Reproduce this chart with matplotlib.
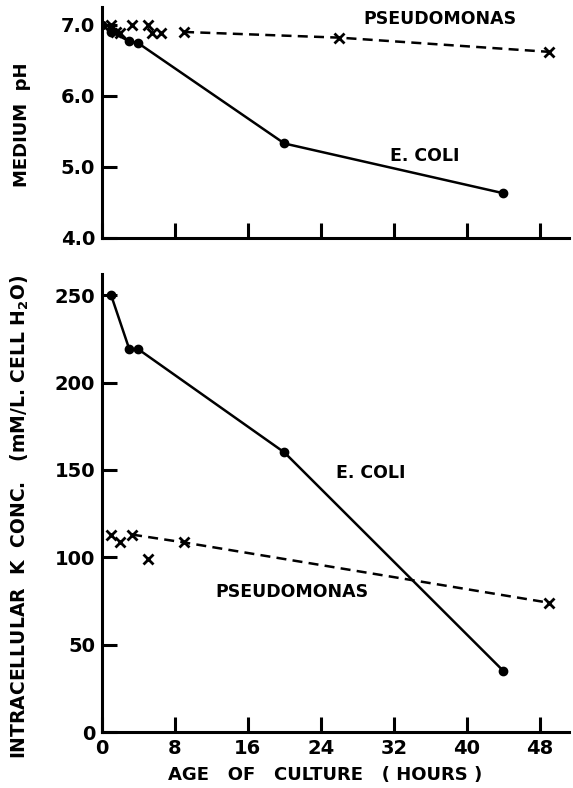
import matplotlib.pyplot as plt
import numpy as np

plt.rcParams['font.family'] = 'DejaVu Sans'

# medium pH vs. age of culture
ecoli_ph_hours = [0, 1, 3, 4, 20, 44]
ecoli_ph = [7.0, 6.9, 6.77, 6.74, 5.33, 4.63]
pseudo_ph_hours = [1, 1.5, 2, 3.3, 5, 5.5, 6.5, 9, 26, 49]
pseudo_ph = [7.0, 6.9, 6.88, 7.0, 7.0, 6.89, 6.89, 6.9, 6.82, 6.62]
pseudo_ph_trend_hours = [9, 26, 49]
pseudo_ph_trend = [6.9, 6.82, 6.62]

# intracellular K concentration (mM/L. cell H2O)
ecoli_k_hours = [1, 3, 4, 20, 44]
ecoli_k = [250, 219, 219, 160, 35]
pseudo_k_hours = [1, 2, 3.3, 5, 9, 49]
pseudo_k = [113, 108.5, 113, 99, 108.5, 74]
pseudo_k_trend_hours = [3.3, 9, 49]
pseudo_k_trend = [113, 108.5, 74]

hour_ticks = [0, 8, 16, 24, 32, 40, 48]

fig = plt.figure(figsize=(5.73, 7.88), dpi=100)
ax1 = fig.add_axes([0.178, 0.698, 0.815, 0.293])
ax2 = fig.add_axes([0.178, 0.071, 0.815, 0.581])

lw = 1.8
for ax in (ax1, ax2):
    for s in ('top', 'right'):
        ax.spines[s].set_visible(False)
    for s in ('left', 'bottom'):
        ax.spines[s].set_linewidth(2.2)
    ax.set_xlim(0, 51.2)
    ax.set_xticks(hour_ticks)
    ax.tick_params(direction='in', length=11, width=2.2, labelsize=14,
                   pad=5)

# top panel
ax1.plot(ecoli_ph_hours, ecoli_ph, '-', color='black', lw=lw,
         marker='o', ms=6)
ax1.plot(pseudo_ph_hours, pseudo_ph, 'x', color='black', ms=7, mew=2)
ax1.plot(pseudo_ph_trend_hours, pseudo_ph_trend, '--', color='black',
         lw=lw, dashes=(4, 2.5))
ax1.set_ylim(4.0, 7.25)
ax1.set_yticks([4.0, 5.0, 6.0, 7.0])
ax1.set_yticklabels(['4.0', '5.0', '6.0', '7.0'], fontweight='bold')
ax1.set_xticklabels([])
ax1.set_ylabel('MEDIUM  pH', fontsize=13, fontweight='bold')
ax1.yaxis.set_label_coords(-0.152, 0.49)
ax1.text(37, 6.95, 'PSEUDOMONAS', fontsize=12.5, fontweight='bold',
         ha='center', va='bottom')
ax1.text(35.4, 5.15, 'E. COLI', fontsize=12.5, fontweight='bold',
         ha='center', va='center')

# bottom panel
ax2.plot(ecoli_k_hours, ecoli_k, '-', color='black', lw=lw,
         marker='o', ms=6)
ax2.plot(pseudo_k_hours, pseudo_k, 'x', color='black', ms=7, mew=2)
ax2.plot(pseudo_k_trend_hours, pseudo_k_trend, '--', color='black',
         lw=lw, dashes=(4, 2.5))
ax2.set_ylim(0, 262)
ax2.set_yticks([0, 50, 100, 150, 200, 250])
ax2.set_yticklabels(['0', '50', '100', '150', '200', '250'],
                    fontweight='bold')
ax2.set_xticklabels([str(h) for h in hour_ticks], fontweight='bold')
ax2.set_ylabel('INTRACELLULAR  K  CONC.   (mM/L. CELL H$_\\mathbf{2}$O)',
               fontsize=13.5, fontweight='bold')
ax2.yaxis.set_label_coords(-0.152, 0.47)
ax2.set_xlabel('AGE   OF   CULTURE   ( HOURS )', fontsize=13,
               fontweight='bold')
ax2.xaxis.set_label_coords(0.478, -0.075)
ax2.text(29.5, 148, 'E. COLI', fontsize=12.5, fontweight='bold',
         ha='center', va='center')
ax2.text(20.8, 80, 'PSEUDOMONAS', fontsize=12.5, fontweight='bold',
         ha='center', va='center')

plt.savefig('out.png', dpi=100)
